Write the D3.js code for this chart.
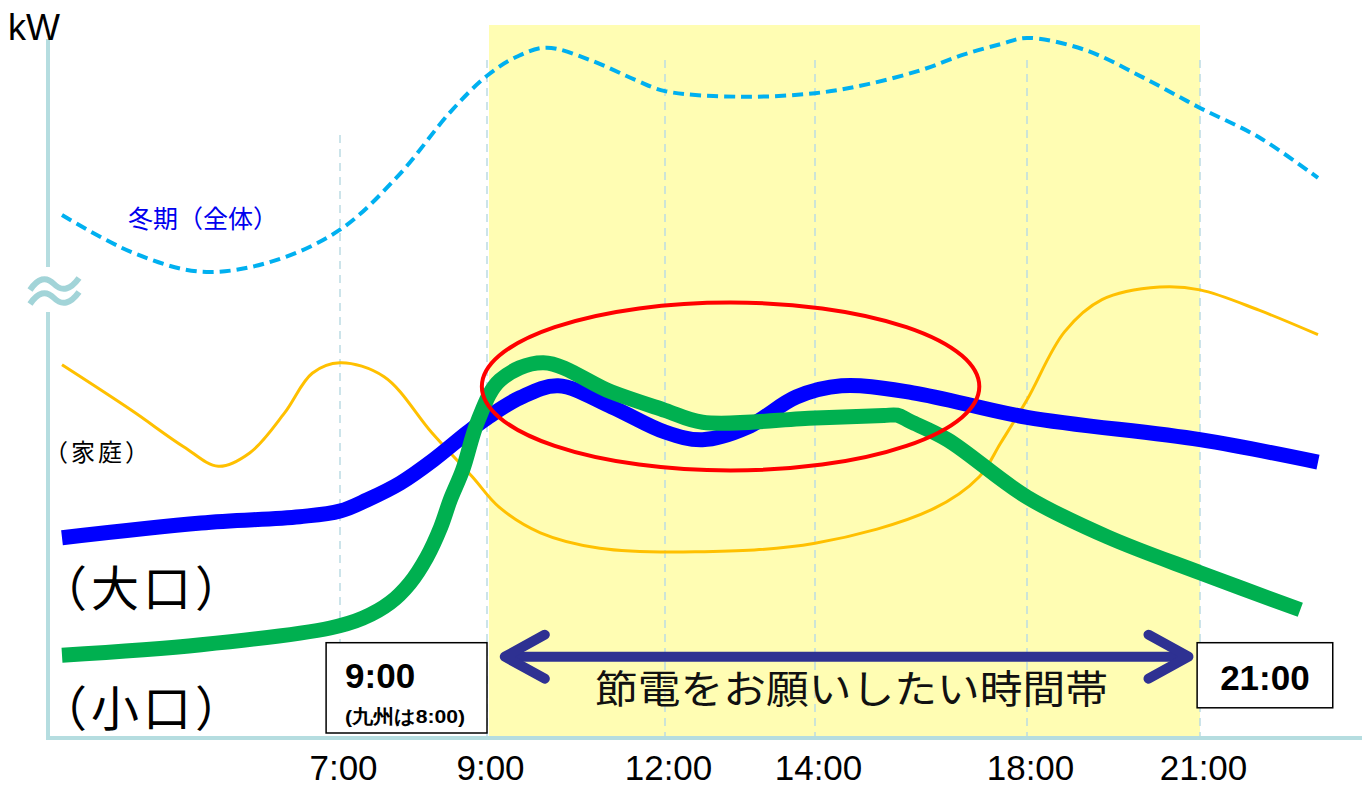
<!DOCTYPE html>
<html>
<head>
<meta charset="utf-8">
<script src="https://cdn.jsdelivr.net/npm/d3@7"></script>
<style>
  body { margin: 0; background: #fff; }
  svg { display: block; }
  text { font-family: "Liberation Sans", Arial, sans-serif; }
  .jp { font-family: "Noto Sans CJK JP", sans-serif; }
</style>
</head>
<body>
<div id="chart"></div>
<script>
// schematic load curves: x = hour of day, y = relative kW (no y ticks)
const hourTicks = [7, 9, 12, 14, 18, 21];
const peakStart = 9, peakEnd = 21;

// 冬期（全体）
const winterHours = [3, 4, 5, 6, 7, 7.8, 8.5, 9, 9.5, 10, 10.75, 11.5, 12, 13, 14, 15, 16, 16.8, 17.5, 18, 19, 20, 21, 22, 23];
const winterKw    = [75.0, 69.7, 66.9, 68.3, 72.9, 80.7, 89.7, 94.9, 97.6, 98.9, 97.1, 94.3, 92.7, 91.9, 92.4, 93.7, 95.7, 97.9, 99.4, 100.3, 98.6, 94.7, 90.3, 86.1, 80.3];

// 家庭
const homeHours = [3, 4, 4.75, 5.25, 5.7, 6.2, 6.6, 7, 7.6, 8.25, 8.8, 9.2, 9.9, 10.9, 12.4, 14, 16.2, 17.1, 17.5, 18, 18.65, 19.3, 20.3, 21, 22, 23];
const homeKw    = [53.6, 47.1, 41.9, 39.1, 41.0, 46.7, 52.4, 53.9, 51.9, 43.9, 37.6, 33.3, 29.6, 27.4, 26.9, 28.1, 32.9, 37.6, 42.4, 48.6, 58.3, 62.9, 64.7, 64.3, 61.4, 57.9];

// 大口
const largeHours = [3, 5, 6.42, 7, 7.37, 7.82, 8.27, 8.73, 9, 9.56, 10.2, 11.1, 12, 12.5, 13.1, 13.75, 14.5, 15.85, 18, 21, 23];
const largeKw    = [28.9, 31.0, 31.9, 32.7, 34.3, 36.7, 40.0, 43.9, 46.0, 48.9, 50.6, 47.6, 44.0, 42.9, 44.7, 49.0, 50.6, 49.6, 46.1, 42.9, 39.7];

// 小口
const smallHours = [3, 5, 6.86, 7.31, 7.68, 7.95, 8.18, 8.37, 8.5, 8.67, 8.88, 9.22, 9.95, 11.1, 12, 12.5, 14, 15.3, 15.55, 15.8, 16.5, 18, 19.4, 21, 22.7];
const smallKw    = [12.1, 13.6, 16.0, 17.4, 19.6, 22.4, 26.1, 30.4, 34.3, 38.6, 45.7, 51.4, 53.9, 49.7, 47.1, 45.4, 46.0, 46.35, 46.4, 45.5, 42.9, 34.7, 29.0, 23.9, 18.6];

// highlighted region (red ellipse)
const focusHours = [8.93, 17.1];
const focusKw = [38.5, 62.5];

const W = 1362, H = 787;
const svg = d3.select("#chart").append("svg")
    .attr("width", W).attr("height", H);

// hours are not evenly spaced in the original drawing -> piecewise scale
const x = d3.scaleLinear()
    .domain([3, 7, 9, 12, 14, 18, 21, 23])
    .range([62, 340, 487, 665, 815, 1027, 1200, 1318]);
const y = d3.scaleLinear().domain([0, 100]).range([740, 40]);

const axisColor = "#b5dde0";
const baseY = y(0.3);

// yellow band
svg.append("rect")
    .attr("x", x(peakStart) + 2).attr("y", 25)
    .attr("width", x(peakEnd) - x(peakStart) - 2)
    .attr("height", baseY - 25)
    .attr("fill", "#fffdb3");

// dashed hour lines
svg.append("g").selectAll("line")
    .data(hourTicks)
    .join("line")
    .attr("x1", d => x(d)).attr("x2", d => x(d))
    .attr("y1", d => d === 7 ? 135 : 60)
    .attr("y2", baseY)
    .attr("stroke", "#bcdbe3")
    .attr("stroke-width", 1.5)
    .attr("stroke-dasharray", "8,6");

// axes
svg.append("line").attr("x1", 48).attr("x2", 48).attr("y1", 39).attr("y2", 267)
    .attr("stroke", axisColor).attr("stroke-width", 4);
svg.append("line").attr("x1", 48).attr("x2", 48).attr("y1", 312).attr("y2", baseY + 2)
    .attr("stroke", axisColor).attr("stroke-width", 4);
svg.append("line").attr("x1", 46).attr("x2", W).attr("y1", baseY).attr("y2", baseY)
    .attr("stroke", axisColor).attr("stroke-width", 4);

// axis break mark
const brk = svg.append("g").attr("fill", "none").attr("stroke", "#a2d4d8").attr("stroke-width", 6);
[0, 14].forEach(off => {
  brk.append("path").attr("d", `M30,${290 + off} Q42,${272 + off} 54,${284 + off} T79,${278 + off}`);
});

svg.append("text").attr("x", 8).attr("y", 40)
    .attr("font-size", 36).attr("fill", "#000").text("kW");

const xAxis = svg.append("g")
    .attr("transform", `translate(0,${baseY})`)
    .call(d3.axisBottom(x).tickValues(hourTicks).tickFormat(d => d + ":00")
        .tickSize(0).tickPadding(17));
xAxis.select(".domain").remove();
xAxis.selectAll("text")
    .attr("font-size", 35).attr("fill", "#000")
    .attr("font-family", "Liberation Sans, Arial, sans-serif")
    .attr("dx", 3);

// curves
const zip = (hs, vs) => hs.map((h, i) => [h, vs[i]]);
const smooth = d3.line()
    .x(d => x(d[0])).y(d => y(d[1]))
    .curve(d3.curveCatmullRom.alpha(0.5));

svg.append("path").datum(zip(winterHours, winterKw))
    .attr("d", smooth).attr("fill", "none")
    .attr("stroke", "#00b0f0").attr("stroke-width", 4)
    .attr("stroke-dasharray", "11,6");

svg.append("path").datum(zip(homeHours, homeKw))
    .attr("d", smooth).attr("fill", "none")
    .attr("stroke", "#ffc000").attr("stroke-width", 3);

svg.append("path").datum(zip(largeHours, largeKw))
    .attr("d", smooth).attr("fill", "none")
    .attr("stroke", "#0000ff").attr("stroke-width", 15);

svg.append("path").datum(zip(smallHours, smallKw))
    .attr("d", smooth).attr("fill", "none")
    .attr("stroke", "#00b050").attr("stroke-width", 15);

svg.append("ellipse")
    .attr("cx", (x(focusHours[0]) + x(focusHours[1])) / 2)
    .attr("cy", (y(focusKw[0]) + y(focusKw[1])) / 2)
    .attr("rx", (x(focusHours[1]) - x(focusHours[0])) / 2)
    .attr("ry", (y(focusKw[0]) - y(focusKw[1])) / 2)
    .attr("fill", "none").attr("stroke", "#ff0000").attr("stroke-width", 4);

// series labels
svg.append("text").attr("class", "jp").attr("x", 128).attr("y", 228)
    .attr("font-size", 25).attr("fill", "#0000ee").text("冬期（全体）");
svg.append("text").attr("class", "jp").attr("x", 44).attr("y", 461)
    .attr("font-size", 24).attr("letter-spacing", 3).attr("fill", "#000").text("（家庭）");
svg.append("text").attr("class", "jp").attr("x", 39).attr("y", 606)
    .attr("font-size", 48).attr("letter-spacing", 4).attr("fill", "#000").text("（大口）");
svg.append("text").attr("class", "jp").attr("x", 39).attr("y", 726)
    .attr("font-size", 48).attr("letter-spacing", 4).attr("fill", "#000").text("（小口）");

// double arrow for the requested period
const arrowY = y(11.9);
const ax0 = x(9.3), ax1 = x(20.8);
const arrow = svg.append("g")
    .attr("fill", "none").attr("stroke", "#2e3192")
    .attr("stroke-width", 10).attr("stroke-linecap", "round").attr("stroke-linejoin", "round");
arrow.append("line").attr("x1", ax0 + 4).attr("x2", ax1 - 4).attr("y1", arrowY).attr("y2", arrowY);
arrow.append("path").attr("d", `M${ax0 + 40},${arrowY - 22}L${ax0},${arrowY}L${ax0 + 40},${arrowY + 22}`);
arrow.append("path").attr("d", `M${ax1 - 40},${arrowY - 22}L${ax1},${arrowY}L${ax1 - 40},${arrowY + 22}`);

svg.append("text").attr("class", "jp")
    .attr("x", (ax0 + ax1) / 2 + 5).attr("y", 703)
    .attr("text-anchor", "middle")
    .attr("font-size", 39).attr("fill", "#111")
    .attr("textLength", 513).attr("lengthAdjust", "spacingAndGlyphs")
    .text("節電をお願いしたい時間帯");

// start / end boxes
const startBox = svg.append("g");
startBox.append("rect")
    .attr("x", x(6.8)).attr("y", y(13.9))
    .attr("width", x(peakStart) - x(6.8)).attr("height", y(1) - y(13.9))
    .attr("fill", "#fff").attr("stroke", "#000").attr("stroke-width", 1.5);
startBox.append("text").attr("x", x(6.8) + 19).attr("y", 688)
    .attr("font-size", 35).attr("font-weight", "bold").text("9:00");
startBox.append("text").attr("x", x(6.8) + 19).attr("y", 723)
    .attr("font-size", 19).attr("font-weight", "bold")
    .attr("font-family", "Liberation Sans, Noto Sans CJK JP, sans-serif")
    .attr("textLength", 120).attr("lengthAdjust", "spacingAndGlyphs")
    .text("(九州は8:00)");

const endBox = svg.append("g");
endBox.append("rect")
    .attr("x", x(20.95)).attr("y", y(13.9))
    .attr("width", x(23.25) - x(20.95)).attr("height", y(4.6) - y(13.9))
    .attr("fill", "#fff").attr("stroke", "#000").attr("stroke-width", 1.5);
endBox.append("text").attr("x", (x(20.95) + x(23.25)) / 2).attr("y", 690)
    .attr("text-anchor", "middle")
    .attr("font-size", 35).attr("font-weight", "bold").text("21:00");
</script>
</body>
</html>
